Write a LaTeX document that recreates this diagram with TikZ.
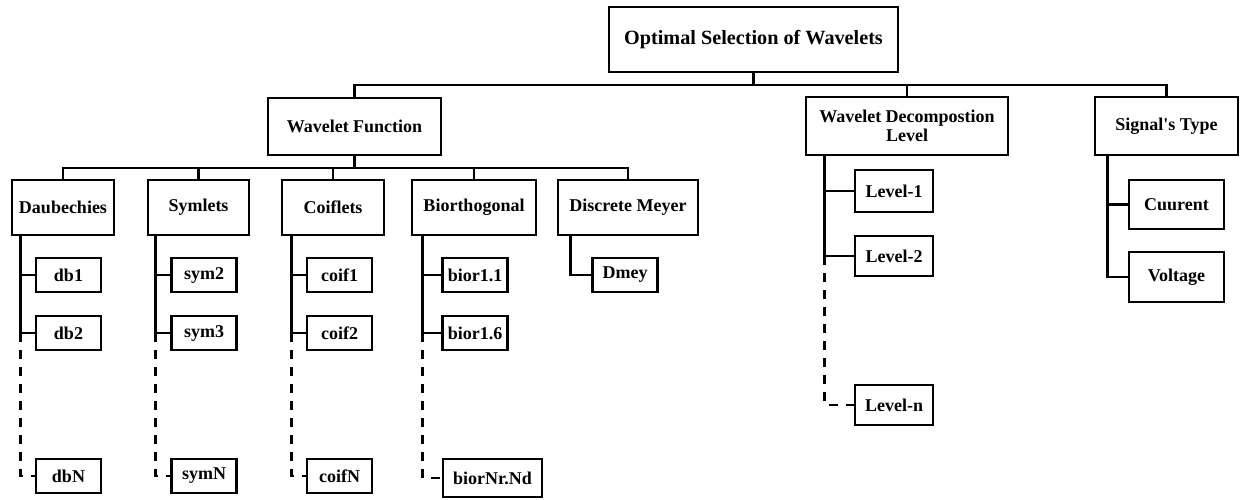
\documentclass[tikz,border=0pt]{standalone}
\usepackage{fontspec}
\setmainfont{Liberation Serif}
\tikzset{
  box/.style={draw, line width=1.3pt, inner sep=1pt, align=center,
    font=\bfseries\fontsize{9}{9.5}\selectfont},
  famb/.style={box, minimum height=27.5pt},
  leaf/.style={box, minimum width=32.5pt, minimum height=17pt},
  dashed/.style={dash pattern=on 4.5pt off 4pt},
}
\begin{document}
\begin{tikzpicture}[x=0.5pt,y=-0.5pt,line width=1.3pt]
\useasboundingbox (0,0) rectangle (1241,499);
% top levels
\node[box,minimum width=144.5pt,minimum height=32.5pt,font=\bfseries\fontsize{10.1}{12}\selectfont] (top) at (753.5,39.5) {Optimal Selection of Wavelets};
\node[box,minimum width=86.5pt,minimum height=28.5pt] (wf) at (354.5,126.5) {Wavelet Function};
\node[box,minimum width=101pt,minimum height=29pt] (wdl) at (907,126) {Wavelet Decompostion\\Level};
\node[box,minimum width=71.5pt,minimum height=29pt] (sig) at (1166.5,126) {Signal\textquotesingle s Type};
% wavelet families
\node[famb,minimum width=51pt] (dau) at (63,207.5) {Daubechies};
\node[famb,minimum width=50.5pt] (sym) at (198.5,207.5) {Symlets};
\node[famb,minimum width=51pt] (coif) at (333,207.5) {Coiflets};
\node[famb,minimum width=62pt] (bior) at (474,207.5) {Biorthogonal};
\node[famb,minimum width=70pt] (dmey) at (628,207.5) {Discrete Meyer};
% members
\node[leaf] (db1) at (68.5,275) {db1};
\node[leaf] (db2) at (68.5,333) {db2};
\node[leaf] (dbN) at (68.5,476) {dbN};
\node[leaf] (sym2) at (204,275) {sym2};
\node[leaf] (sym3) at (204,333) {sym3};
\node[leaf] (symN) at (204,476) {symN};
\node[leaf] (coif1) at (339.5,275) {coif1};
\node[leaf] (coif2) at (339.5,333) {coif2};
\node[leaf] (coifN) at (339.5,476) {coifN};
\node[leaf] (bi1) at (475,275) {bior1.1};
\node[leaf] (bi2) at (475,333) {bior1.6};
\node[leaf,minimum width=49.5pt,minimum height=19pt] (biN) at (492.5,478) {biorNr.Nd};
\node[leaf] (dm) at (625,275) {Dmey};
\node[leaf,minimum width=39pt,minimum height=21pt] (lv1) at (894,191) {Level-1};
\node[leaf,minimum width=39pt,minimum height=20pt] (lv2) at (894,256) {Level-2};
\node[leaf,minimum width=39pt,minimum height=20pt] (lvn) at (894,405) {Level-n};
\node[leaf,minimum width=47.5pt,minimum height=24.5pt] (cur) at (1176.5,204.5) {Cuurent};
\node[leaf,minimum width=47.5pt,minimum height=25pt] (volt) at (1176.5,277) {Voltage};
% buses
\coordinate (bus) at (0,85);
\coordinate (fbus) at (0,168);
\draw (top.south) -- (top.south |- bus);
\draw (wf.north) -- (wf.north |- bus) -- (sig.north |- bus) -- (sig.north);
\draw (wdl.north) -- (wdl.north |- bus);
\draw (wf.south) -- (wf.south |- fbus);
\draw (dau.north) -- (dau.north |- fbus) -- (dmey.north |- fbus) -- (dmey.north);
\foreach \n in {sym,coif,bior} \draw (\n.north) -- (\n.north |- fbus);
% trunks
\foreach \g/\s/\a/\b/\c in {dau/5pt/db1/db2/dbN, sym/4.5pt/sym2/sym3/symN, coif/5.5pt/coif1/coif2/coifN, bior/6pt/bi1/bi2/biN, wdl/10pt/lv1/lv2/lvn}{
  \coordinate (\g t) at ([xshift=\s]\g.south west);
  \draw (\g t) |- (\a.west);
  \draw (\g t) |- (\b.west);
  \draw[dashed] (\g t |- \b.west) |- (\c.west);
}
\coordinate (dmey t) at ([xshift=7pt]dmey.south west);
\draw (dmey t) |- (dm.west);
\coordinate (sig t) at ([xshift=7pt]sig.south west);
\draw (sig t) |- (cur.west);
\draw (sig t) |- (volt.west);
\end{tikzpicture}
\end{document}
